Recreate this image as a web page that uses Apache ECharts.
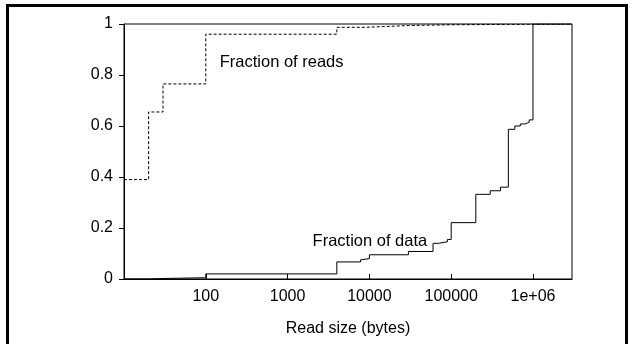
<!DOCTYPE html>
<html>
<head>
<meta charset="utf-8">
<script src="https://cdn.jsdelivr.net/npm/echarts@6/dist/echarts.min.js"></script>
<style>
  html, body { margin: 0; padding: 0; background: #fff; }
  #chart { position: absolute; left: 0; top: 0; width: 634px; height: 344px; }
  #frame { position: absolute; left: 6px; top: 4px; width: 616px; height: 360px; border: 3px solid #000; pointer-events: none; }
</style>
</head>
<body>
<div id="chart"></div>
<div id="frame"></div>
<script>
// read sizes (bytes) where each CDF steps up
const readSizes = [10, 20, 30, 100, 4000, 9000, 30000, 100000, 1000000, 3000000];
const fractionOfReads = [0.39, 0.655, 0.765, 0.96, 0.987, 0.994, 0.997, 0.999, 1, 1];

const dataSizes = [10, 20, 30, 100, 4000, 7800, 8200, 10000, 30000, 60000, 70000, 90000,
  100000, 200000, 300000, 400000, 500000, 600000, 700000, 800000, 900000, 1000000, 3000000];
const fractionOfData = [0, 0.002, 0.005, 0.02, 0.067, 0.075, 0.08, 0.095, 0.108, 0.14, 0.146, 0.155,
  0.221, 0.332, 0.346, 0.36, 0.587, 0.6, 0.608, 0.615, 0.624, 1, 1];

const xTickLabels = { 100: "100", 1000: "1000", 10000: "10000", 100000: "100000", 1000000: "1e+06" };
const yTicks = [0, 0.2, 0.4, 0.6, 0.8, 1];

const fontFamily = "'Liberation Sans', Arial, Helvetica, sans-serif";

const chart = echarts.init(document.getElementById("chart"), null, { renderer: "canvas" });

const pair = (xs, ys) => xs.map((x, i) => [x, ys[i]]);

chart.setOption({
  animation: false,
  backgroundColor: "#fff",
  grid: {
    left: 124, right: 62, top: 24, bottom: 65,
    show: true, borderColor: "#000", borderWidth: 1, backgroundColor: "transparent",
  },
  xAxis: {
    type: "log",
    logBase: 10,
    min: 10,
    max: 3000000,
    name: "Read size (bytes)",
    nameLocation: "middle",
    nameGap: 42,
    nameTextStyle: { color: "#000", fontSize: 16, fontFamily },
    axisLine: { show: true, lineStyle: { color: "#000", width: 1 } },
    axisTick: { show: true, inside: true, length: 5, lineStyle: { color: "#000" } },
    axisLabel: {
      color: "#000", fontSize: 16, fontFamily, margin: 10,
      showMinLabel: false, showMaxLabel: false,
      formatter: (v) => {
        const p = Math.round(Math.log10(v));
        const key = Math.pow(10, p);
        return Math.abs(v - key) / key < 1e-6 && xTickLabels[key] ? xTickLabels[key] : "";
      },
    },
    splitLine: { show: false },
  },
  yAxis: {
    type: "value",
    min: yTicks[0],
    max: yTicks[yTicks.length - 1],
    interval: 0.2,
    axisLine: { show: true, lineStyle: { color: "#000", width: 1 } },
    axisTick: { show: true, inside: false, length: 5, lineStyle: { color: "#000" } },
    axisLabel: { color: "#000", fontSize: 16, fontFamily, margin: 11 },
    splitLine: { show: false },
  },
  series: [
    {
      name: "Fraction of reads",
      type: "line",
      step: "end",
      symbol: "none",
      data: pair(readSizes, fractionOfReads),
      lineStyle: { color: "#000", width: 1, type: [3, 2] },
    },
    {
      name: "Fraction of data",
      type: "line",
      step: "end",
      symbol: "none",
      data: pair(dataSizes, fractionOfData),
      lineStyle: { color: "#000", width: 1 },
    },
  ],
});

// labels placed in data coordinates
const notes = [
  { text: "Fraction of reads", at: [148, 0.848] },
  { text: "Fraction of data", at: [2020, 0.147] },
];
chart.setOption({
  graphic: notes.map((n) => {
    const p = chart.convertToPixel({ gridIndex: 0 }, n.at);
    return {
      type: "text",
      x: p[0],
      y: p[1],
      style: { text: n.text, fill: "#000", font: "16.5px " + fontFamily, textAlign: "left", textVerticalAlign: "middle" },
    };
  }),
});
</script>
</body>
</html>
